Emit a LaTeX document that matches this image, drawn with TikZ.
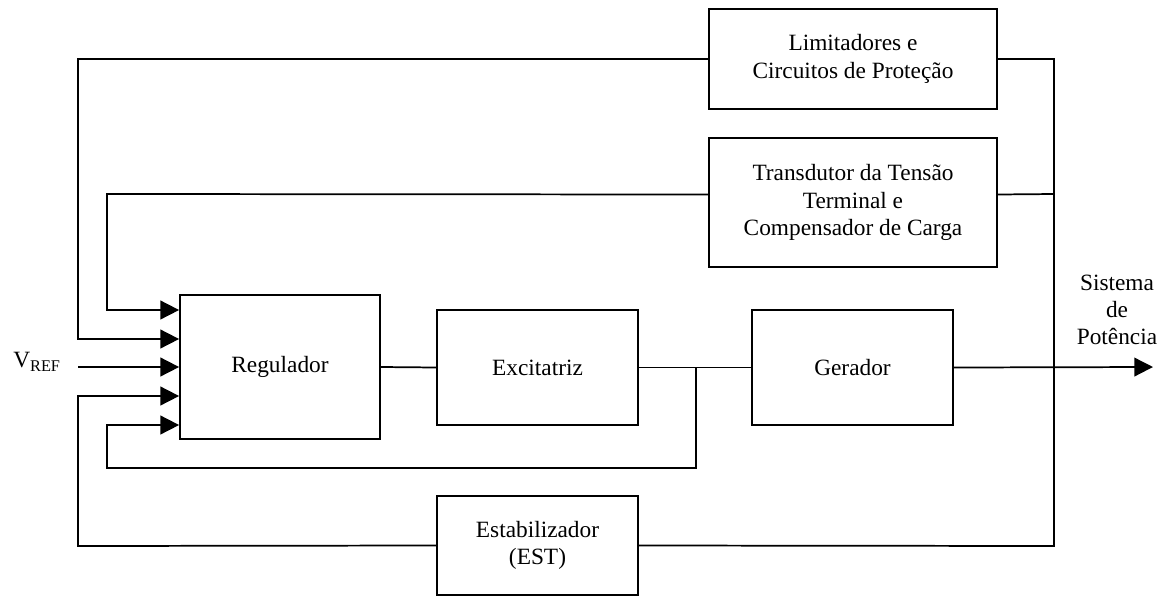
\documentclass[tikz,border=0pt]{standalone}
\usepackage{fontspec}
\setmainfont{Liberation Serif}
\usepackage{tikz}
\usetikzlibrary{arrows.meta}

\begin{document}
\begin{tikzpicture}[x=0.75pt,y=-0.75pt,line width=1.3pt,
    bloco/.style={draw,align=center,font=\fontsize{17.5}{20.5}\selectfont},
    texto/.style={align=center,font=\fontsize{17.5}{20.5}\selectfont},
    seta/.style={-{Triangle[length=14pt,width=14pt]}}]
        \useasboundingbox (0,0) rectangle (1164,597);
        % Top blocks
        \node[bloco,minimum width=288*0.75pt,minimum height=100*0.75pt] (lim) at (853,59) {Limitadores e\\Circuitos de Proteção};
        \node[bloco,minimum width=288*0.75pt,minimum height=129*0.75pt] (trans) at (853,202.5) {Transdutor da Tensão\\Terminal e\\Compensador de Carga};
        % Main chain
        \node[bloco,minimum width=200*0.75pt,minimum height=144*0.75pt] (reg) at (280,367) {Regulador};
        \node[bloco,minimum width=201*0.75pt,minimum height=115*0.75pt] (exc) at (537.5,367.5) {Excitatriz};
        \node[bloco,minimum width=201*0.75pt,minimum height=115*0.75pt] (ger) at (852.5,367.5) {Gerador};
        % Bottom block
        \node[bloco,minimum width=201*0.75pt,minimum height=99*0.75pt] (est) at (537.5,545.5) {Estabilizador\\(EST)};
        % Labels
        \node[texto] (vref) at (37,362) {V\textsubscript{REF}};
        \node[texto] (sis) at (1117,310) {Sistema\\de\\Potência};
        \coordinate (j) at (696,367);
        \coordinate (out) at (1153,367);
        % Edges
        \draw (reg.east) -- (exc.west);
        \draw (exc.east) -- (ger.west);
        \draw[seta] (ger.east) -- (out);
        \draw (lim.east) -- (1054,59) -- (1054,546) -- (est.east);
        \draw ([yshift=6pt]trans.east) -- (1054,194);
        \draw[seta] (lim.west) -- (78,59) -- (78,339) -- (reg.west |- 0,339);
        \draw[seta] ([yshift=6pt]trans.west) -- (107,194) -- (107,310) -- (reg.west |- 0,310);
        \draw[seta] (78,367) -- (reg.west);
        \draw[seta] (est.west) -- (78,546) -- (78,396) -- (reg.west |- 0,396);
        \draw[seta] (j) -- (696,468) -- (107,468) -- (107,425) -- (reg.west |- 0,425);
    \end{tikzpicture}
\end{document}
